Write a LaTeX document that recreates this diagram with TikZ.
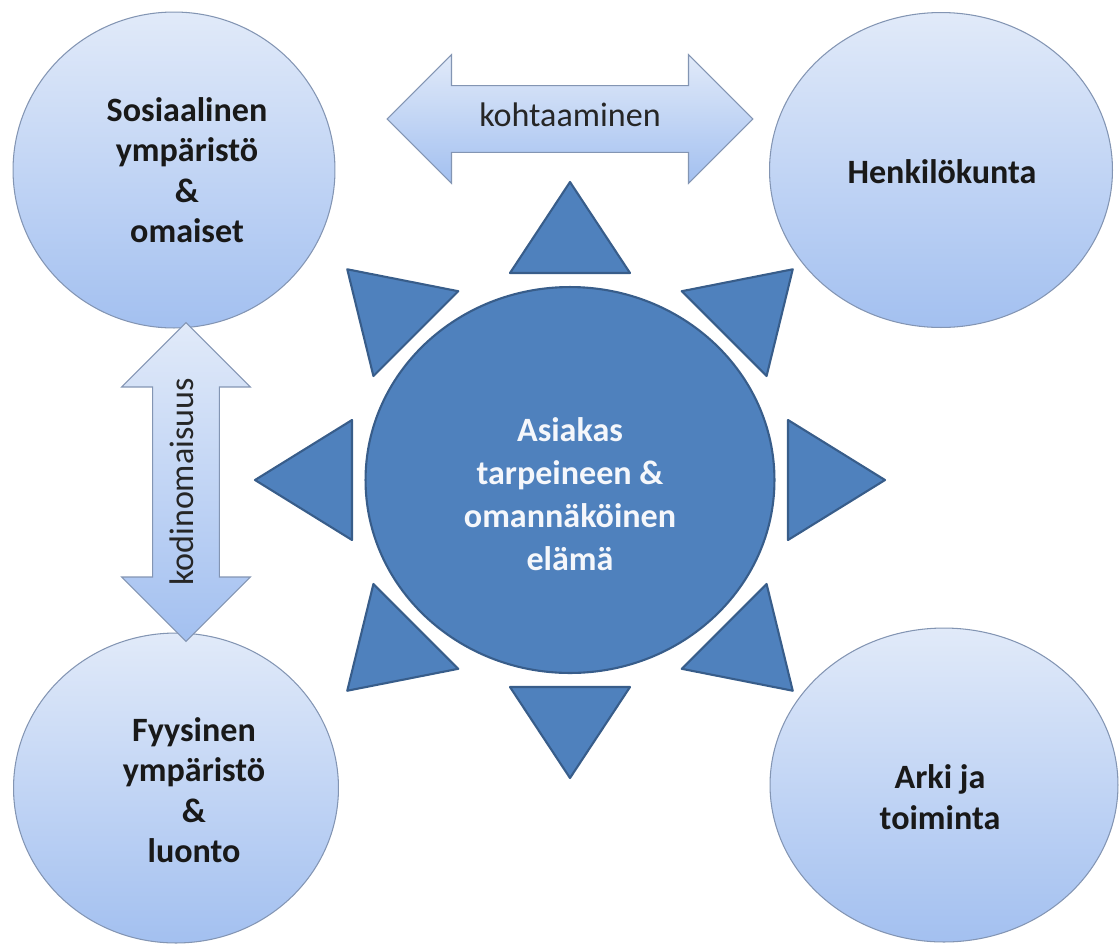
\documentclass[tikz,border=0pt]{standalone}
\usepackage{fontspec}
\setmainfont{Carlito}
\usetikzlibrary{shapes.geometric,shapes.arrows,calc}

\definecolor{hubblue}{HTML}{4F81BD}
\definecolor{hubline}{HTML}{385D8A}
\definecolor{ringtop}{HTML}{E1EAF9}
\definecolor{ringbot}{HTML}{A3C0F0}
\definecolor{ringline}{HTML}{8395B3}

\begin{document}
\begin{tikzpicture}[x=0.02cm, y=-0.02cm,
    ring/.style={ellipse, draw=ringline, line width=0.6pt,
        top color=ringtop, bottom color=ringbot, inner sep=0pt},
    ringtext/.style={align=center, text=black!90,
        font=\fontsize{19.4}{23}\selectfont\bfseries},
    hub/.style={ellipse, draw=hubline, line width=1.2pt, fill=hubblue,
        minimum width=8.18cm, minimum height=7.72cm},
    hubtext/.style={align=center, text=white!94!hubblue,
        font=\fontsize{19.4}{24.5}\selectfont\bfseries},
    ray/.style={draw=hubline, line width=1.2pt, fill=hubblue, line join=round},
    link/.style={double arrow, draw=ringline, line width=0.6pt,
        top color=ringtop, bottom color=ringbot,
        double arrow tip angle=90, double arrow head extend=0.62cm,
        minimum width=2.56cm, inner xsep=0pt, inner ysep=0.36cm,
        text height=13pt, text depth=4pt, text=black!85,
        font=\fontsize{19.4}{23}\selectfont}
]
    \useasboundingbox (0,0) rectangle (1119,944);

    % corner circles
    \node[ring, minimum width=6.44cm, minimum height=6.32cm] (sosiaalinen) at (174,170) {};
    \node[ring, minimum width=6.86cm, minimum height=6.30cm] (henkilokunta) at (941,170) {};
    \node[ring, minimum width=6.50cm, minimum height=6.20cm] (fyysinen) at (176,788) {};
    \node[ring, minimum width=6.96cm, minimum height=6.28cm] (arki) at (944,785) {};

    \node[ringtext] (sosiaalinentext) at (187,170) {Sosiaalinen\\ympäristö\\\&\\omaiset};
    \node[ringtext] (henkilokuntatext) at (942,172) {Henkilökunta};
    \node[ringtext] (fyysinentext) at (194,790) {Fyysinen\\ympäristö\\\&\\luonto};
    \node[ringtext] (arkitext) at (940,797) {Arki ja\\toiminta};

    % centre and rays
    \node[hub] (asiakas) at (570,480) {};
    \node[hubtext] (asiakastext) at (570,494) {Asiakas\\tarpeineen \&\\omannäköinen\\elämä};
    \foreach \a in {0,45,...,315}
        \draw[ray] ($(asiakas)+(\a:218 and 207)+(\a+90:60)$)
            -- ($(asiakas)+(\a:315 and 298)$)
            -- ($(asiakas)+(\a:218 and 207)+(\a-90:60)$) -- cycle;

    % double arrows
    \node[link, minimum height=7.32cm] (kohtaaminen) at (570,119) {kohtaaminen};
    \node[link, minimum height=6.38cm, rotate=90] (kodinomaisuus) at (186,482) {kodinomaisuus};
\end{tikzpicture}
\end{document}
